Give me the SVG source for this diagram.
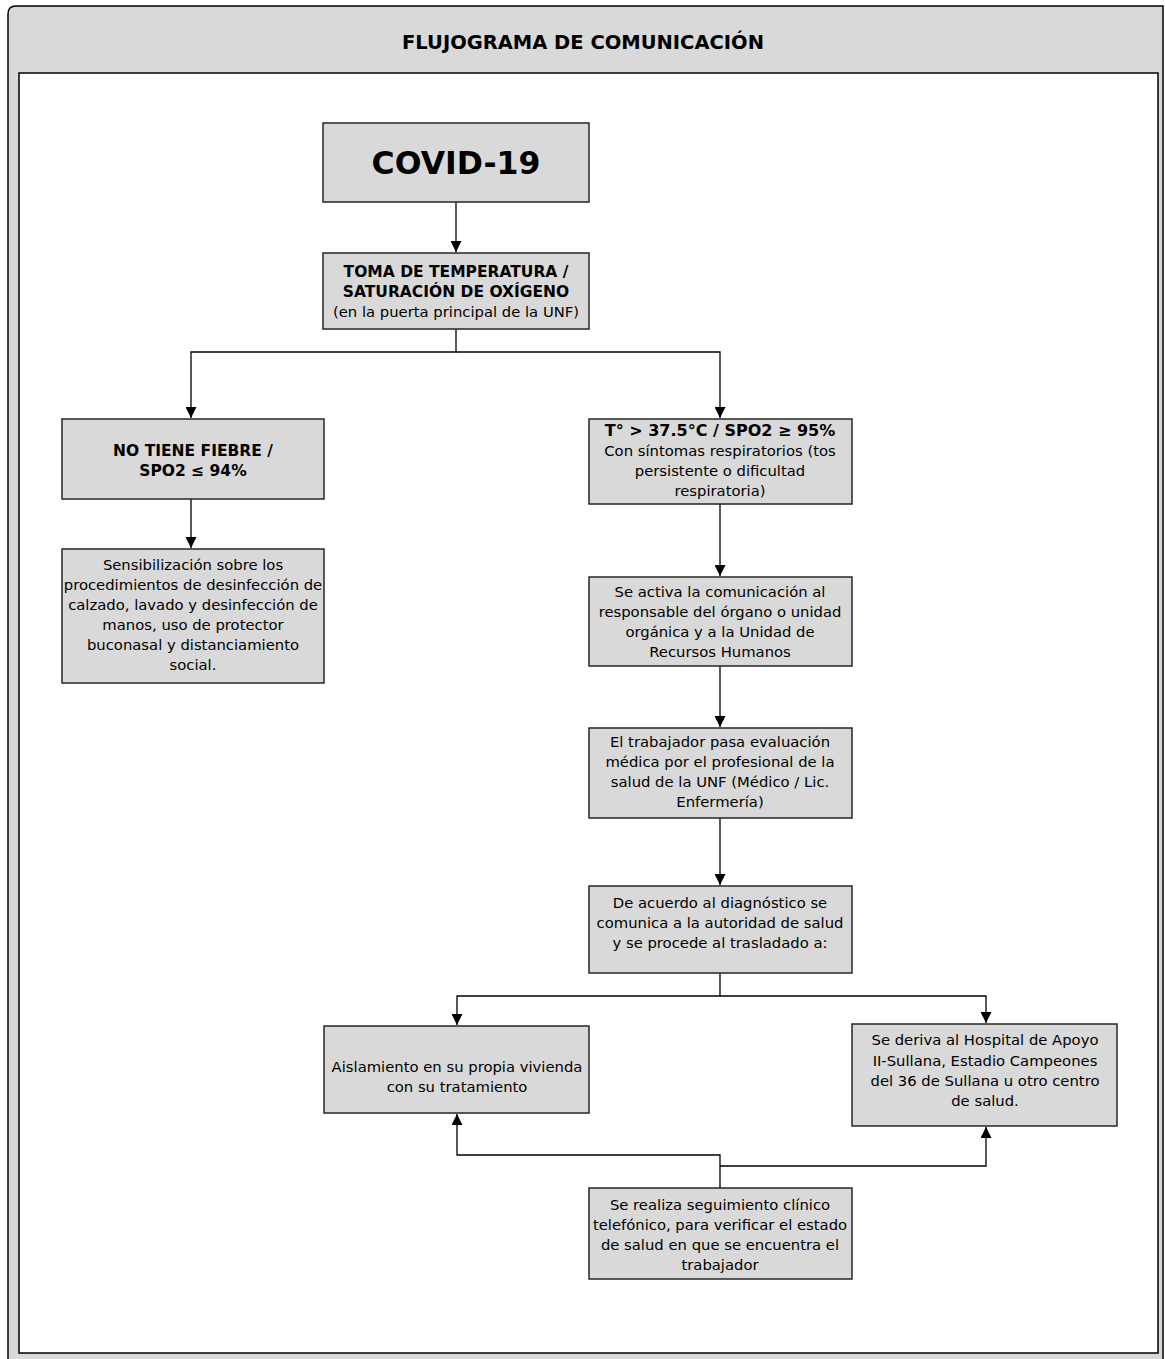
<svg xmlns="http://www.w3.org/2000/svg" width="1165" height="1359" viewBox="0 0 1165 1359">
<style>
.box{fill:#d9d9d9;stroke:#262626;stroke-width:1.5}
.t{font-family:"DejaVu Sans",Verdana,sans-serif;font-size:14.8px;fill:#000;text-anchor:middle}
.b{font-weight:bold;font-size:15.5px}
.ln{fill:none;stroke:#000;stroke-width:1.3}
</style>
<defs>
<marker id="ah" viewBox="0 0 10 10" refX="10" refY="5" markerWidth="11" markerHeight="11" markerUnits="userSpaceOnUse" orient="auto">
<path d="M0,0 L10,5 L0,10 z" fill="#000"/>
</marker>
</defs>
<g id="frame">
<path d="M8,1359 L8,14 Q8,6 16,6 L1163,6 L1163,1359" fill="#d9d9d9" stroke="#000" stroke-width="1.5"/>
<rect x="19" y="73" width="1139" height="1280" fill="#fff" stroke="#000" stroke-width="1.5"/>
<text class="t b" x="583" y="49" style="font-size:19.5px">FLUJOGRAMA DE COMUNICACIÓN</text>
</g>
<g id="connectors">
<line class="ln" x1="456" y1="202" x2="456" y2="252" marker-end="url(#ah)"/>
<polyline class="ln" points="456,329 456,352 191,352 191,418" marker-end="url(#ah)"/>
<polyline class="ln" points="456,352 720,352 720,418" marker-end="url(#ah)"/>
<line class="ln" x1="191" y1="499" x2="191" y2="548" marker-end="url(#ah)"/>
<line class="ln" x1="720" y1="504" x2="720" y2="576" marker-end="url(#ah)"/>
<line class="ln" x1="720" y1="666" x2="720" y2="727" marker-end="url(#ah)"/>
<line class="ln" x1="720" y1="818" x2="720" y2="885" marker-end="url(#ah)"/>
<polyline class="ln" points="720,973 720,996 457,996 457,1025" marker-end="url(#ah)"/>
<polyline class="ln" points="720,996 986,996 986,1023" marker-end="url(#ah)"/>
<polyline class="ln" points="720,1188 720,1155 457,1155 457,1114" marker-end="url(#ah)"/>
<polyline class="ln" points="720,1166 986,1166 986,1127" marker-end="url(#ah)"/>
</g>
<g id="n-covid">
<rect class="box" x="323" y="123" width="266" height="79"/>
<text class="t b" x="456" y="174" style="font-size:31.5px">COVID-19</text>
</g>
<g id="n-toma">
<rect class="box" x="323" y="253" width="266" height="76"/>
<text class="t b" x="456" y="277">TOMA DE TEMPERATURA /</text>
<text class="t b" x="456" y="297">SATURACIÓN DE OXÍGENO</text>
<text class="t" x="456" y="317">(en la puerta principal de la UNF)</text>
</g>
<g id="n-nofiebre">
<rect class="box" x="62" y="419" width="262" height="80"/>
<text class="t b" x="193" y="456">NO TIENE FIEBRE /</text>
<text class="t b" x="193" y="476">SPO2 ≤ 94%</text>
</g>
<g id="n-sensib">
<rect class="box" x="62" y="549" width="262" height="134"/>
<text class="t" x="193" y="570">Sensibilización sobre los</text>
<text class="t" x="193" y="590">procedimientos de desinfección de</text>
<text class="t" x="193" y="610">calzado, lavado y desinfección de</text>
<text class="t" x="193" y="630">manos, uso de protector</text>
<text class="t" x="193" y="650">buconasal y distanciamiento</text>
<text class="t" x="193" y="670">social.</text>
</g>
<g id="n-temp">
<rect class="box" x="589" y="419" width="263" height="85"/>
<text class="t b" x="720" y="436" style="font-size:16px">T° &gt; 37.5°C / SPO2 ≥ 95%</text>
<text class="t" x="720" y="456">Con síntomas respiratorios (tos</text>
<text class="t" x="720" y="476">persistente o dificultad</text>
<text class="t" x="720" y="496">respiratoria)</text>
</g>
<g id="n-activa">
<rect class="box" x="589" y="577" width="263" height="89"/>
<text class="t" x="720" y="597">Se activa la comunicación al</text>
<text class="t" x="720" y="617">responsable del órgano o unidad</text>
<text class="t" x="720" y="637">orgánica y a la Unidad de</text>
<text class="t" x="720" y="657">Recursos Humanos</text>
</g>
<g id="n-evaluacion">
<rect class="box" x="589" y="728" width="263" height="90"/>
<text class="t" x="720" y="747">El trabajador pasa evaluación</text>
<text class="t" x="720" y="767">médica por el profesional de la</text>
<text class="t" x="720" y="787">salud de la UNF (Médico / Lic.</text>
<text class="t" x="720" y="807">Enfermería)</text>
</g>
<g id="n-diagnostico">
<rect class="box" x="589" y="886" width="263" height="87"/>
<text class="t" x="720" y="908">De acuerdo al diagnóstico se</text>
<text class="t" x="720" y="928">comunica a la autoridad de salud</text>
<text class="t" x="720" y="948">y se procede al trasladado a:</text>
</g>
<g id="n-aislamiento">
<rect class="box" x="324" y="1026" width="265" height="87"/>
<text class="t" x="457" y="1072">Aislamiento en su propia vivienda</text>
<text class="t" x="457" y="1092">con su tratamiento</text>
</g>
<g id="n-hospital">
<rect class="box" x="852" y="1024" width="265" height="102"/>
<text class="t" x="985" y="1045">Se deriva al Hospital de Apoyo</text>
<text class="t" x="985" y="1066">II-Sullana, Estadio Campeones</text>
<text class="t" x="985" y="1086">del 36 de Sullana u otro centro</text>
<text class="t" x="985" y="1106">de salud.</text>
</g>
<g id="n-seguimiento">
<rect class="box" x="589" y="1188" width="263" height="91"/>
<text class="t" x="720" y="1210">Se realiza seguimiento clínico</text>
<text class="t" x="720" y="1230">telefónico, para verificar el estado</text>
<text class="t" x="720" y="1250">de salud en que se encuentra el</text>
<text class="t" x="720" y="1270">trabajador</text>
</g>
</svg>
